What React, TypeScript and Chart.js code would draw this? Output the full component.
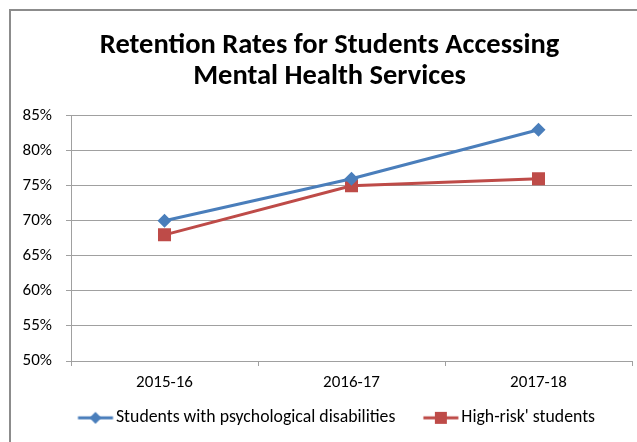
import React, { useEffect, useRef } from "react";
import { Chart, registerables } from "chart.js";

Chart.register(...registerables);

const categories = ["2015-16", "2016-17", "2017-18"];
const psychDisabilities = [70, 76, 83];
const highRisk = [68, 75, 76];
const seriesNames = ["Students with psychological disabilities", "High-risk' students"];
const titleLines = ["Retention Rates for Students Accessing", "Mental Health Services"];
const yMin = 50;
const yMax = 85;
const yStep = 5;

const BLUE = "#4a7ebb";
const RED = "#be4b48";
const FONT = "Carlito, Lato, 'Liberation Sans', sans-serif";

// Legend icon: 60px wide image, visible line+marker drawn in its right part
function makeLegendIcon(color: string, shape: "diamond" | "square"): HTMLCanvasElement {
  const c = document.createElement("canvas");
  c.width = 60;
  c.height = 16;
  const ctx = c.getContext("2d")!;
  const a = 22.45;
  const b = 57.45;
  const m = (a + b) / 2;
  ctx.strokeStyle = color;
  ctx.lineWidth = 3;
  ctx.beginPath();
  ctx.moveTo(a, 8);
  ctx.lineTo(b, 8);
  ctx.stroke();
  ctx.fillStyle = color;
  ctx.beginPath();
  if (shape === "diamond") {
    ctx.moveTo(m, 2);
    ctx.lineTo(m + 6, 8);
    ctx.lineTo(m, 14);
    ctx.lineTo(m - 6, 8);
    ctx.closePath();
  } else {
    ctx.rect(m - 6, 2, 12, 12);
  }
  ctx.fill();
  return c;
}

export default function App() {
  const ref = useRef<HTMLCanvasElement | null>(null);

  useEffect(() => {
    if (!ref.current) return;
    const icons = [makeLegendIcon(BLUE, "diamond"), makeLegendIcon(RED, "square")];
    const chart = new Chart(ref.current, {
      type: "line",
      data: {
        labels: categories,
        datasets: [
          {
            label: seriesNames[0],
            data: psychDisabilities,
            borderColor: BLUE,
            backgroundColor: BLUE,
            borderWidth: 3,
            pointStyle: "rectRot",
            pointRadius: 7,
            pointHoverRadius: 7,
            pointBorderWidth: 0,
            tension: 0,
          },
          {
            label: seriesNames[1],
            data: highRisk,
            borderColor: RED,
            backgroundColor: RED,
            borderWidth: 3,
            pointStyle: "rect",
            pointRadius: 9.2,
            pointHoverRadius: 9.2,
            pointBorderWidth: 0,
            tension: 0,
          },
        ],
      },
      options: {
        animation: false,
        responsive: false,
        maintainAspectRatio: false,
        layout: { autoPadding: false, padding: { left: 22, right: 0, top: 0, bottom: 5.25 } },
        plugins: {
          title: {
            display: true,
            text: titleLines,
            color: "#000",
            font: { family: FONT, size: 28.5, weight: "bold", lineHeight: 1.1 },
            padding: { top: 30, bottom: 23 },
          },
          legend: {
            position: "bottom",
            labels: {
              usePointStyle: true,
              pointStyleWidth: 43.1,
              color: "#000",
              font: { family: FONT, size: 17.75 },
              padding: 14,
              generateLabels: () =>
                seriesNames.map((name, i) => ({
                  text: name,
                  pointStyle: icons[i],
                  fillStyle: i === 0 ? BLUE : RED,
                  strokeStyle: i === 0 ? BLUE : RED,
                  lineWidth: 0,
                  hidden: false,
                  datasetIndex: i,
                })),
            },
          },
          tooltip: { enabled: false },
        },
        scales: {
          x: {
            offset: true,
            grid: {
              offset: true,
              drawOnChartArea: false,
              drawTicks: true,
              tickLength: 5,
              color: "#a0a0a0",
            },
            border: { color: "#a0a0a0", width: 1 },
            ticks: {
              color: "#000",
              font: { family: FONT, size: 17 },
              padding: 7,
              maxRotation: 0,
            },
            afterFit: (scale: any) => {
              scale.height = 34;
              scale.paddingLeft = 0;
              scale.paddingRight = 5;
            },
          },
          y: {
            min: yMin,
            max: yMax,
            grid: { color: "#a0a0a0", tickLength: 5, drawTicks: true },
            border: { color: "#a0a0a0", width: 1 },
            ticks: {
              stepSize: yStep,
              color: "#000",
              font: { family: FONT, size: 17 },
              padding: 14,
              callback: (v: any) => `${v}%`,
            },
            afterFit: (scale: any) => {
              scale.width = 49;
            },
          },
        },
      },
    });
    return () => chart.destroy();
  }, []);

  return (
    <div style={{ position: "fixed", left: 0, top: 0, width: 637, height: 442, overflow: "hidden", background: "#fff" }}>
      <div
        style={{
          position: "absolute",
          left: 9,
          top: 9,
          width: 700,
          height: 500,
          borderLeft: "2px solid #8c8c8c",
          borderTop: "2px solid #8c8c8c",
        }}
      />
      <canvas ref={ref} width={637} height={442} style={{ position: "absolute", left: 0, top: 0 }} />
    </div>
  );
}
